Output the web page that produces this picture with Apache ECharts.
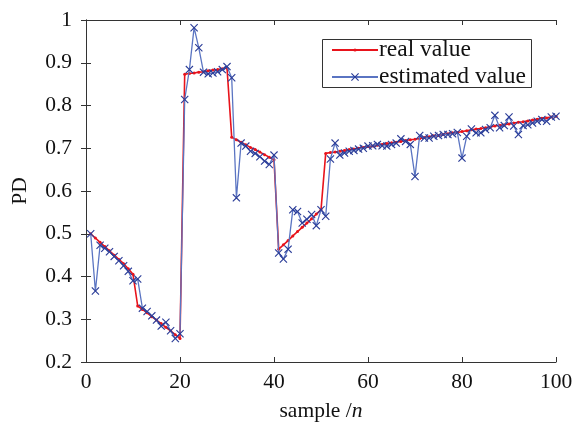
<!DOCTYPE html>
<html>
<head>
<meta charset="utf-8">
<script src="https://cdn.jsdelivr.net/npm/echarts@6/dist/echarts.min.js"></script>
<style>
  html, body { margin: 0; padding: 0; background: #fff; }
  #chart { width: 577px; height: 428px; }
</style>
</head>
<body>
<div id="chart"></div>
<script>
// sample index 1..100
const samples = Array.from({length: 100}, (_, i) => i + 1);

// real value (red)
const realValues = [
  0.500, 0.490, 0.480, 0.470, 0.460, 0.450, 0.440, 0.430, 0.418, 0.405,
  0.331, 0.323, 0.315, 0.306, 0.298, 0.290, 0.281, 0.273, 0.264, 0.255,
  0.873, 0.875, 0.876, 0.878, 0.879, 0.881, 0.883, 0.884, 0.886, 0.888,
  0.726, 0.720, 0.714, 0.708, 0.702, 0.697, 0.691, 0.685, 0.679, 0.673,
  0.464, 0.474, 0.484, 0.495, 0.505, 0.515, 0.525, 0.535, 0.546, 0.556,
  0.688, 0.690, 0.691, 0.693, 0.695, 0.697, 0.698, 0.700, 0.702, 0.704,
  0.705, 0.707, 0.709, 0.711, 0.713, 0.714, 0.716, 0.718, 0.720, 0.721,
  0.723, 0.725, 0.727, 0.729, 0.730, 0.732, 0.734, 0.736, 0.737, 0.739,
  0.741, 0.743, 0.745, 0.746, 0.748, 0.750, 0.752, 0.754, 0.755, 0.757,
  0.759, 0.761, 0.762, 0.764, 0.766, 0.768, 0.770, 0.771, 0.773, 0.775
];

// estimated value (blue, x markers)
const estValues = [
  0.500, 0.366, 0.473, 0.466, 0.458, 0.447, 0.437, 0.425, 0.412, 0.390,
  0.394, 0.326, 0.318, 0.308, 0.298, 0.284, 0.293, 0.273, 0.255, 0.266,
  0.814, 0.884, 0.982, 0.935, 0.878, 0.874, 0.876, 0.879, 0.884, 0.891,
  0.865, 0.584, 0.712, 0.705, 0.693, 0.688, 0.680, 0.670, 0.662, 0.684,
  0.455, 0.441, 0.464, 0.556, 0.552, 0.525, 0.534, 0.545, 0.519, 0.556,
  0.541, 0.675, 0.712, 0.684, 0.689, 0.693, 0.695, 0.698, 0.700, 0.705,
  0.706, 0.709, 0.706, 0.705, 0.709, 0.712, 0.722, 0.716, 0.709, 0.634,
  0.730, 0.724, 0.724, 0.728, 0.730, 0.732, 0.732, 0.734, 0.737, 0.677,
  0.728, 0.745, 0.736, 0.736, 0.744, 0.748, 0.777, 0.748, 0.753, 0.773,
  0.752, 0.732, 0.753, 0.755, 0.759, 0.763, 0.767, 0.763, 0.773, 0.775
];

const xTicks = [0, 20, 40, 60, 80, 100];
const yTicks = [0.2, 0.3, 0.4, 0.5, 0.6, 0.7, 0.8, 0.9, 1];

const FONT = 'Liberation Serif';
const xMark = 'path://M0,1L1,0L5,4L9,0L10,1L6,5L10,9L9,10L5,6L1,10L0,9L4,5Z';

const boxAxis = {
  axisLine: {show: true, lineStyle: {color: '#333', width: 1}},
  axisTick: {show: true, inside: true, length: 5, lineStyle: {color: '#333'}},
  splitLine: {show: false}
};

// two legends so each keeps its own marker size, inside one framed box
const legendText = {fontFamily: FONT, fontSize: 23.5, lineHeight: 24, color: '#111', padding: [0, 0, 0, -4]};
const legendBase = {orient: 'horizontal', left: 331, padding: 0, itemWidth: 46, textStyle: legendText, z: 10};

const chart = echarts.init(document.getElementById('chart'));
chart.setOption({
  animation: false,
  backgroundColor: '#fff',
  grid: {left: 86, right: 21, top: 20, bottom: 66},
  graphic: [{
    type: 'rect',
    shape: {x: 322.5, y: 39.5, width: 209, height: 48},
    style: {fill: '#fff', stroke: '#333', lineWidth: 1},
    z: 5
  }],
  legend: [
    {...legendBase, top: 38, itemHeight: 4, data: ['real value']},
    {...legendBase, top: 65, itemHeight: 10, data: ['estimated value']}
  ],
  xAxis: [{
    type: 'value', min: xTicks[0], max: xTicks[xTicks.length - 1], interval: 20,
    ...boxAxis,
    axisLabel: {fontFamily: FONT, fontSize: 21.5, color: '#111', margin: 9},
    name: '{a|sample /}{b|n}',
    nameLocation: 'middle',
    nameGap: 38,
    nameTextStyle: {
      rich: {
        a: {fontFamily: FONT, fontSize: 21.5, color: '#111'},
        b: {fontFamily: FONT, fontSize: 21.5, color: '#111', fontStyle: 'italic'}
      }
    }
  }, {
    type: 'value', min: 0, max: 100, interval: 20, position: 'top',
    ...boxAxis, axisLabel: {show: false}
  }],
  yAxis: [{
    type: 'value', min: yTicks[0], max: yTicks[yTicks.length - 1], interval: 0.1,
    ...boxAxis,
    axisLabel: {
      fontFamily: FONT, fontSize: 21.5, color: '#111', margin: 14,
      formatter: v => String(+v.toFixed(1))
    },
    name: 'PD',
    nameLocation: 'middle',
    nameGap: 55,
    nameTextStyle: {fontFamily: FONT, fontSize: 21.5, color: '#111'}
  }, {
    type: 'value', min: 0.2, max: 1, interval: 0.1, position: 'right',
    ...boxAxis, axisLabel: {show: false}
  }],
  series: [{
    name: 'real value',
    type: 'line',
    data: samples.map((s, i) => [s, realValues[i]]),
    symbol: 'circle',
    symbolSize: 3,
    lineStyle: {color: '#e8131b', width: 1.6},
    itemStyle: {color: '#e8131b'},
    z: 2
  }, {
    name: 'estimated value',
    type: 'line',
    data: samples.map((s, i) => [s, estValues[i]]),
    symbol: xMark,
    symbolSize: 8,
    lineStyle: {color: '#5a74c2', width: 1.3},
    itemStyle: {color: '#2b3d98'},
    z: 3
  }]
});
</script>
</body>
</html>
